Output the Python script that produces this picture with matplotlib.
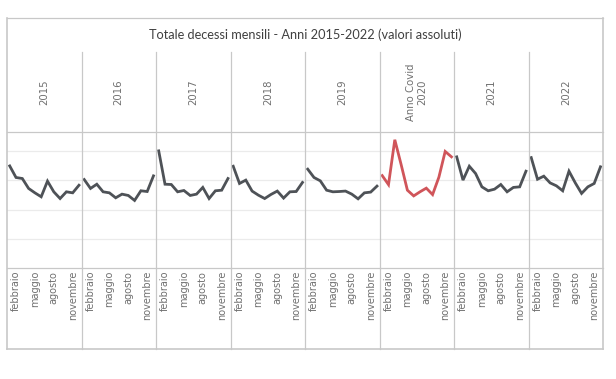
import matplotlib
matplotlib.use("Agg")
import matplotlib.pyplot as plt
from matplotlib.lines import Line2D

# ---- data ----
years = ["2015", "2016", "2017", "2018", "2019", "2020", "2021", "2022"]
year_headers = ["2015", "2016", "2017", "2018", "2019", "Anno Covid\n2020", "2021", "2022"]
months = list(range(1, 13))
tick_months = [2, 5, 8, 11]
tick_labels = ["febbraio", "maggio", "agosto", "novembre"]

d2015 = [69800, 61900, 61200, 54400, 51400, 48700, 59400, 52100, 47500, 52100, 51400, 56600]
d2016 = [60500, 54400, 57300, 52100, 51400, 48000, 50500, 49600, 46200, 52800, 52300, 63000]
d2017 = [80100, 57300, 57100, 52100, 53000, 49600, 50500, 55100, 47500, 52800, 53200, 61200]
d2018 = [69600, 57800, 60100, 52600, 49800, 47500, 50300, 52600, 47800, 52100, 52300, 58500]
d2019 = [67600, 61900, 59600, 53200, 52100, 52300, 52600, 50500, 47300, 51400, 51900, 56000]
d2020 = [63200, 57000, 87700, 70800, 53200, 49300, 52100, 54600, 50200, 62100, 79700, 76000]
d2021 = [76000, 60100, 69600, 64600, 55500, 52800, 53900, 57100, 52100, 55100, 55500, 66200]
d2022 = [75500, 60700, 62800, 58200, 56200, 52800, 66200, 58200, 51000, 55500, 57800, 69200]
series = [d2015, d2016, d2017, d2018, d2019, d2020, d2021, d2022]
highlight_year = "2020"

title = "Totale decessi mensili - Anni 2015-2022 (valori assoluti)"

# ---- layout (pixels) ----
W, H = 616, 379
fig = plt.figure(figsize=(W / 100, H / 100), dpi=100)
fig.patch.set_facecolor("white")

def fx(px):
    return px / W

def fy(py):
    return 1 - py / H

left, right = 7.0, 603.0
frame_top, header_top, plot_top, plot_bot, frame_bot = 18.0, 52.0, 132.0, 268.0, 349.0
pw = (right - left) / len(years)

dark = "#4e5257"
red = "#d0555a"
sep = "#c8c8c8"
grid = "#ebebeb"
txt = "#707070"

for i, (yr, hdr, vals) in enumerate(zip(years, year_headers, series)):
    x0 = left + i * pw
    ax = fig.add_axes([fx(x0), fy(plot_bot), pw / W, (plot_bot - plot_top) / H])
    ax.set_facecolor("none")
    color = red if yr == highlight_year else dark
    ax.plot(months, vals, color=color, lw=2.0, solid_joinstyle="miter", zorder=3)
    ax.set_xlim(0.57, 12.4)
    ax.set_ylim(0, 93000)
    ax.set_yticks([20000, 40000, 60000, 80000])
    ax.yaxis.grid(True, color=grid, lw=0.9)
    ax.set_axisbelow(True)
    ax.tick_params(axis="y", left=False, labelleft=False)
    ax.set_xticks(tick_months)
    ax.set_xticklabels(tick_labels, rotation=90, fontsize=7, color=txt,
                       va="top", ha="center")
    ax.tick_params(axis="x", length=0, pad=2)
    for s in ax.spines.values():
        s.set_visible(False)
    # header text
    fig.text(fx(x0 + pw / 2), fy((header_top + plot_top) / 2), hdr, rotation=90,
             ha="center", va="center", fontsize=7.3, color=txt, multialignment="center")

# title
fig.text(fx((left + right) / 2), fy(35), title, ha="center", va="center",
         fontsize=9.2, color="#404040", family="Lato")

# frame lines
def hline(y, x0=left, x1=right, c=sep, lw=0.9):
    fig.add_artist(Line2D([fx(x0), fx(x1)], [fy(y), fy(y)], color=c, lw=lw,
                          transform=fig.transFigure))

def vline(x, y0, y1, c=sep, lw=0.9):
    fig.add_artist(Line2D([fx(x), fx(x)], [fy(y0), fy(y1)], color=c, lw=lw,
                          transform=fig.transFigure))

hline(frame_top)
hline(plot_top)
hline(plot_bot)
hline(frame_bot, lw=1.2)
vline(left, frame_top, frame_bot, lw=1.2)
vline(right, frame_top, frame_bot, lw=1.2)
for i in range(1, len(years)):
    vline(left + i * pw, header_top, frame_bot)

fig.savefig("out.png", dpi=100, facecolor="white")
